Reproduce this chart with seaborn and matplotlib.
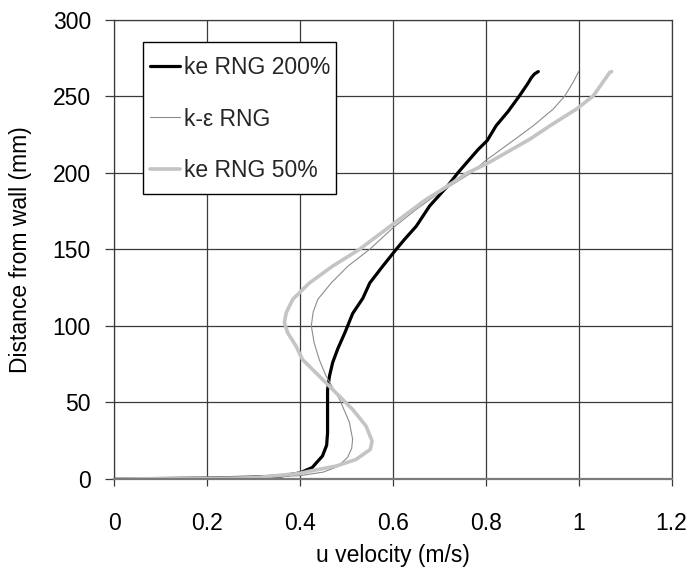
import matplotlib
matplotlib.use("Agg")
import matplotlib.pyplot as plt
from matplotlib.patches import Rectangle
import seaborn as sns
import pandas as pd

# Velocity profiles: u velocity (m/s) against distance from wall (mm)
u_rng200 = [0.0, 0.1, 0.2, 0.3, 0.36, 0.40, 0.426, 0.448, 0.457, 0.459, 0.459, 0.459,
            0.463, 0.470, 0.481, 0.497, 0.513, 0.535, 0.550, 0.578, 0.607, 0.625, 0.650,
            0.679, 0.718, 0.740, 0.783, 0.803, 0.822, 0.848, 0.872, 0.890, 0.898, 0.905, 0.913]
d_rng200 = [0.0, 0.3, 0.6, 1.2, 2.0, 4.0, 7.5, 15, 22, 30, 45, 58,
            67, 76, 85, 96, 108, 118, 128, 139, 150, 156.5, 165,
            178.3, 191.4, 200, 215, 221, 230.6, 240, 250, 258, 262, 264.5, 266]

u_rng = [0.0, 0.1, 0.2, 0.3, 0.40, 0.45, 0.48, 0.502, 0.511, 0.513, 0.506, 0.499,
         0.485, 0.477, 0.456, 0.441, 0.430, 0.424, 0.428, 0.438, 0.467, 0.503, 0.550,
         0.600, 0.650, 0.700, 0.769, 0.800, 0.859, 0.902, 0.945, 0.970, 0.988, 1.000]
d_rng = [0.0, 0.2, 0.4, 0.8, 2.2, 4.5, 8, 14, 20, 26, 37, 42,
         52, 56, 67, 78, 89, 100, 109, 117.3, 128, 139, 150,
         164, 176, 187, 200, 208, 221, 230.6, 241.5, 250, 259, 266]

u_rng50 = [0.0, 0.1, 0.2, 0.3, 0.398, 0.420, 0.477, 0.520, 0.551, 0.555, 0.542, 0.513,
           0.477, 0.441, 0.405, 0.391, 0.373, 0.366, 0.370, 0.384, 0.420, 0.470, 0.528,
           0.614, 0.672, 0.707, 0.761, 0.800, 0.895, 0.938, 0.995, 1.031, 1.052, 1.067, 1.071]
d_rng50 = [0.0, 0.2, 0.4, 0.8, 3.6, 5.1, 8.4, 12.7, 19.3, 24.7, 34.5, 45.4,
           56.3, 67.2, 78, 86.8, 95.5, 102, 108.6, 117.3, 128, 139, 150,
           169.6, 182.7, 189.2, 200, 205.5, 221.9, 230.6, 241.5, 250, 259, 265.5, 266]

series_labels = ["ke RNG 200%", "k-\u03b5 RNG", "ke RNG 50%"]
x_ticks = [0, 0.2, 0.4, 0.6, 0.8, 1.0, 1.2]
x_tick_labels = ["0", "0.2", "0.4", "0.6", "0.8", "1", "1.2"]
y_ticks = [0, 50, 100, 150, 200, 250, 300]

frames = []
for lab, u, d in zip(series_labels,
                     [u_rng200, u_rng, u_rng50],
                     [d_rng200, d_rng, d_rng50]):
    frames.append(pd.DataFrame({"u": u, "d": d, "model": lab}))
df = pd.concat(frames, ignore_index=True)

sns.set_theme(style="white")
plt.rcParams["font.family"] = ["Liberation Sans", "DejaVu Sans"]

W, H = 691, 569
fig = plt.figure(figsize=(W / 100, H / 100), dpi=100)
ax = fig.add_axes([0.1657, 0.1582, 0.9718 - 0.1657, 0.9657 - 0.1582])

styles = {
    "ke RNG 200%": dict(color="#000000", lw=2.3),
    "k-\u03b5 RNG": dict(color="#8c8c8c", lw=0.8),
    "ke RNG 50%": dict(color="#c4c4c4", lw=2.6),
}
for lab in series_labels:
    sub = df[df["model"] == lab]
    sns.lineplot(data=sub, x="u", y="d", sort=False, estimator=None, ax=ax,
                 color=styles[lab]["color"], linewidth=styles[lab]["lw"], label=lab)

ax.set_xlim(0, 1.2)
ax.set_ylim(0, 300)
ax.set_xticks(x_ticks)
ax.set_xticklabels(x_tick_labels)
ax.set_yticks(y_ticks)

grid_c = "#3a3a3a"
ax.grid(True, color=grid_c, linewidth=0.9)
ax.set_axisbelow(True)
for side in ["top", "right", "left"]:
    ax.spines[side].set_color(grid_c)
    ax.spines[side].set_linewidth(0.9)
ax.spines["bottom"].set_color("#7a7a7a")
ax.spines["bottom"].set_linewidth(1.6)

fs = 16.5
ax.tick_params(axis="y", which="major", direction="out", length=6.5, width=0.9,
               color=grid_c, left=True, labelsize=fs, pad=10.5, labelcolor="black")
ax.tick_params(axis="x", which="major", direction="out", length=5, width=0.9,
               color=grid_c, bottom=True, labelsize=fs, pad=19, labelcolor="black")

ax.set_xlabel("u velocity (m/s)", fontsize=fs, labelpad=6, color="black")
ax.set_ylabel("Distance from wall (mm)", fontsize=fs, labelpad=15, color="black")

# Legend entries without their own frame; a square white box sits behind them
leg = ax.legend(loc="upper left", bbox_to_anchor=(143 / W, 1 - 49 / H),
                bbox_transform=fig.transFigure, fontsize=fs, frameon=False,
                borderaxespad=0, borderpad=0.3, labelspacing=1.25,
                handlelength=1.3, handletextpad=0.2)
leg.set_zorder(6)
box = Rectangle((143 / W, 1 - 194 / H), (336 - 143) / W, (194 - 42) / H,
                transform=fig.transFigure, facecolor="white", edgecolor="black",
                linewidth=1.0, zorder=5, clip_on=False)
ax.add_patch(box)

fig.savefig("out.png", dpi=100)
